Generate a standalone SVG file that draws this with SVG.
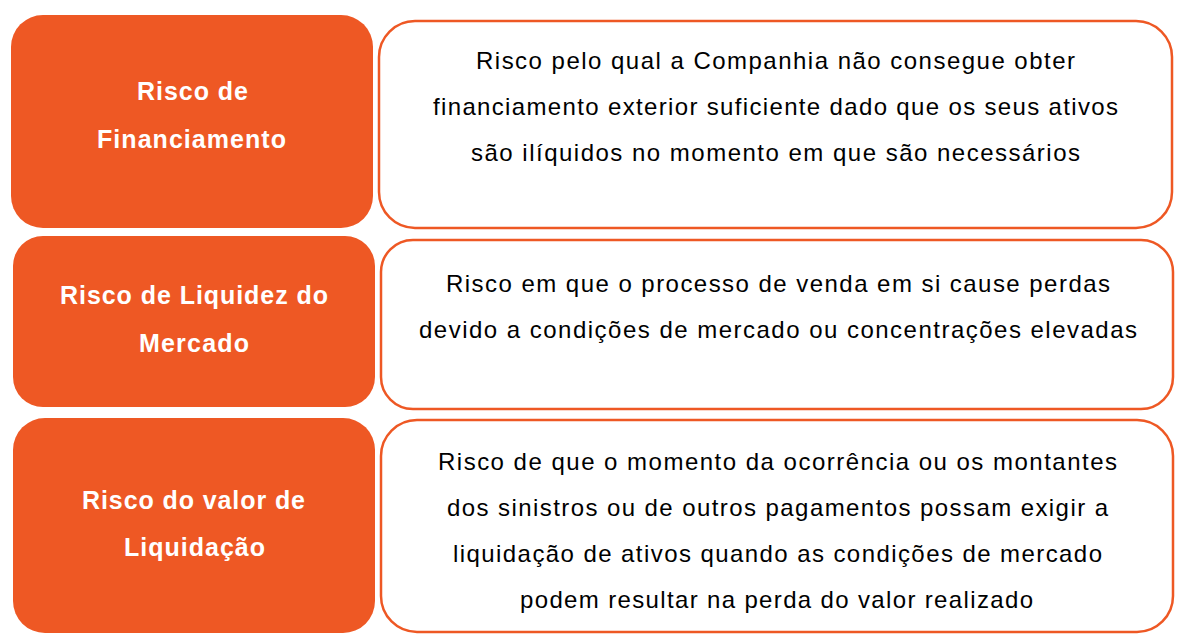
<svg xmlns="http://www.w3.org/2000/svg" width="1197" height="639" viewBox="0 0 1197 639">
<style>
.lab{fill:#EE5824}
.box{fill:#ffffff;stroke:#EE5824;stroke-width:2.5}
.lt{font-family:"Liberation Sans",Arial,sans-serif;font-weight:bold;font-size:25px;fill:#ffffff;text-anchor:middle}
.bt{font-family:"Liberation Sans",Arial,sans-serif;font-size:24px;fill:#000000;text-anchor:middle}
</style>
<rect width="1197" height="639" fill="#ffffff"/>
<g id="connectors"></g>
<g id="label1">
<rect class="lab" x="11" y="15" width="362" height="213" rx="32"/>
<text class="lt" x="192.5" y="100" textLength="111" lengthAdjust="spacing">Risco de</text>
<text class="lt" x="191.5" y="148" textLength="189" lengthAdjust="spacing">Financiamento</text>
</g>
<g id="desc1">
<rect class="box" x="379" y="21" width="793" height="207" rx="36"/>
<text class="bt" x="775.5" y="69" textLength="599" lengthAdjust="spacing">Risco pelo qual a Companhia não consegue obter</text>
<text class="bt" x="775.5" y="115" textLength="685" lengthAdjust="spacing">financiamento exterior suficiente dado que os seus ativos</text>
<text class="bt" x="775.5" y="161" textLength="609" lengthAdjust="spacing">são ilíquidos no momento em que são necessários</text>
</g>
<g id="label2">
<rect class="lab" x="13" y="236" width="362" height="171" rx="30"/>
<text class="lt" x="194" y="304" textLength="268" lengthAdjust="spacing">Risco de Liquidez do</text>
<text class="lt" x="194" y="352" textLength="110" lengthAdjust="spacing">Mercado</text>
</g>
<g id="desc2">
<rect class="box" x="381" y="240" width="792" height="169" rx="32"/>
<text class="bt" x="778" y="292" textLength="664" lengthAdjust="spacing">Risco em que o processo de venda em si cause perdas</text>
<text class="bt" x="778" y="338" textLength="718" lengthAdjust="spacing">devido a condições de mercado ou concentrações elevadas</text>
</g>
<g id="label3">
<rect class="lab" x="13" y="418" width="362" height="215" rx="32"/>
<text class="lt" x="193.5" y="509" textLength="223" lengthAdjust="spacing">Risco do valor de</text>
<text class="lt" x="194.5" y="556" textLength="141" lengthAdjust="spacing">Liquidação</text>
</g>
<g id="desc3">
<rect class="box" x="381" y="420" width="792" height="212" rx="36"/>
<text class="bt" x="777.5" y="470" textLength="679" lengthAdjust="spacing">Risco de que o momento da ocorrência ou os montantes</text>
<text class="bt" x="777.5" y="516" textLength="661" lengthAdjust="spacing">dos sinistros ou de outros pagamentos possam exigir a</text>
<text class="bt" x="777.5" y="562" textLength="649" lengthAdjust="spacing">liquidação de ativos quando as condições de mercado</text>
<text class="bt" x="776.5" y="608" textLength="513" lengthAdjust="spacing">podem resultar na perda do valor realizado</text>
</g>
</svg>
